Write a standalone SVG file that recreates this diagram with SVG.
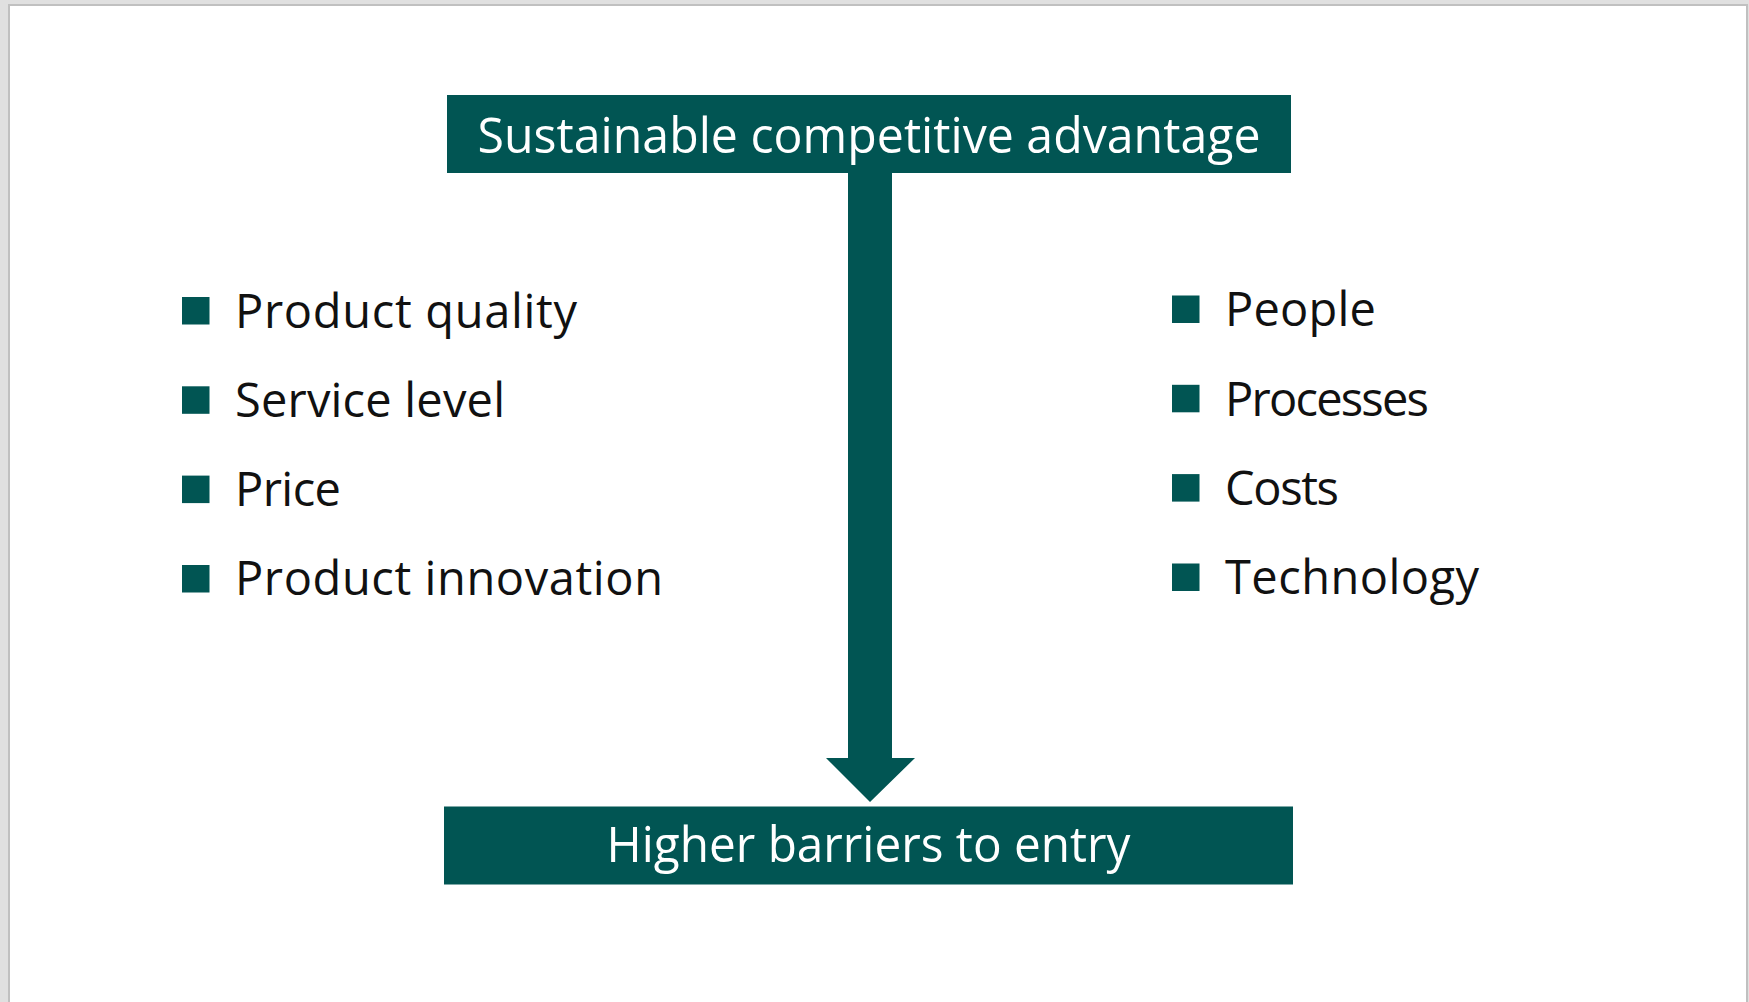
<svg xmlns="http://www.w3.org/2000/svg" width="1749" height="1002" viewBox="0 0 1749 1002">
  <style>
    .box { fill: #015553; }
    .bullet { fill: #015553; }
    .head { font-family: "Open Sans", "Noto Sans", "Liberation Sans", sans-serif; font-size: 50px; fill: #ffffff; text-anchor: middle; }
    .item { font-family: "Open Sans", "Noto Sans", "Liberation Sans", sans-serif; font-size: 47px; fill: #111111; }
  </style>

  <!-- page -->
  <rect x="0" y="0" width="1749" height="1002" fill="#e0e0e0"/>
  <rect x="9" y="5" width="1738" height="1000" fill="#ffffff" stroke="#c0c0c0" stroke-width="2"/>

  <!-- connector: thick down arrow -->
  <g id="connectors">
    <path class="box" d="M848,172 L892,172 L892,758 L915,758 L870,802 L826,758 L848,758 Z"/>
  </g>

  <g id="top-node">
    <rect class="box" x="447" y="95" width="844" height="78"/>
    <text class="head" x="869" y="152.5" textLength="783" lengthAdjust="spacingAndGlyphs">Sustainable competitive advantage</text>
  </g>

  <g id="bottom-node">
    <rect class="box" x="444" y="806.5" width="849" height="78"/>
    <text class="head" x="868.5" y="862" textLength="524" lengthAdjust="spacingAndGlyphs">Higher barriers to entry</text>
  </g>

  <g id="left-list">
    <rect class="bullet" x="182" y="297" width="27.5" height="27.5"/>
    <text class="item" x="235" y="327.5" textLength="342">Product quality</text>
    <rect class="bullet" x="182" y="386.3" width="27.5" height="27.5"/>
    <text class="item" x="235" y="416.8" textLength="270">Service level</text>
    <rect class="bullet" x="182" y="475.6" width="27.5" height="27.5"/>
    <text class="item" x="235" y="506.1" textLength="106">Price</text>
    <rect class="bullet" x="182" y="565" width="27.5" height="27.5"/>
    <text class="item" x="235" y="595.4" textLength="428">Product innovation</text>
  </g>

  <g id="right-list">
    <rect class="bullet" x="1172" y="295.5" width="27.5" height="27.5"/>
    <text class="item" x="1225" y="326.3" textLength="151">People</text>
    <rect class="bullet" x="1172" y="384.8" width="27.5" height="27.5"/>
    <text class="item" x="1225" y="415.6" textLength="204">Processes</text>
    <rect class="bullet" x="1172" y="474.1" width="27.5" height="27.5"/>
    <text class="item" x="1225" y="504.9" textLength="114">Costs</text>
    <rect class="bullet" x="1172" y="563.5" width="27.5" height="27.5"/>
    <text class="item" x="1225" y="594.2" textLength="254">Technology</text>
  </g>
</svg>
